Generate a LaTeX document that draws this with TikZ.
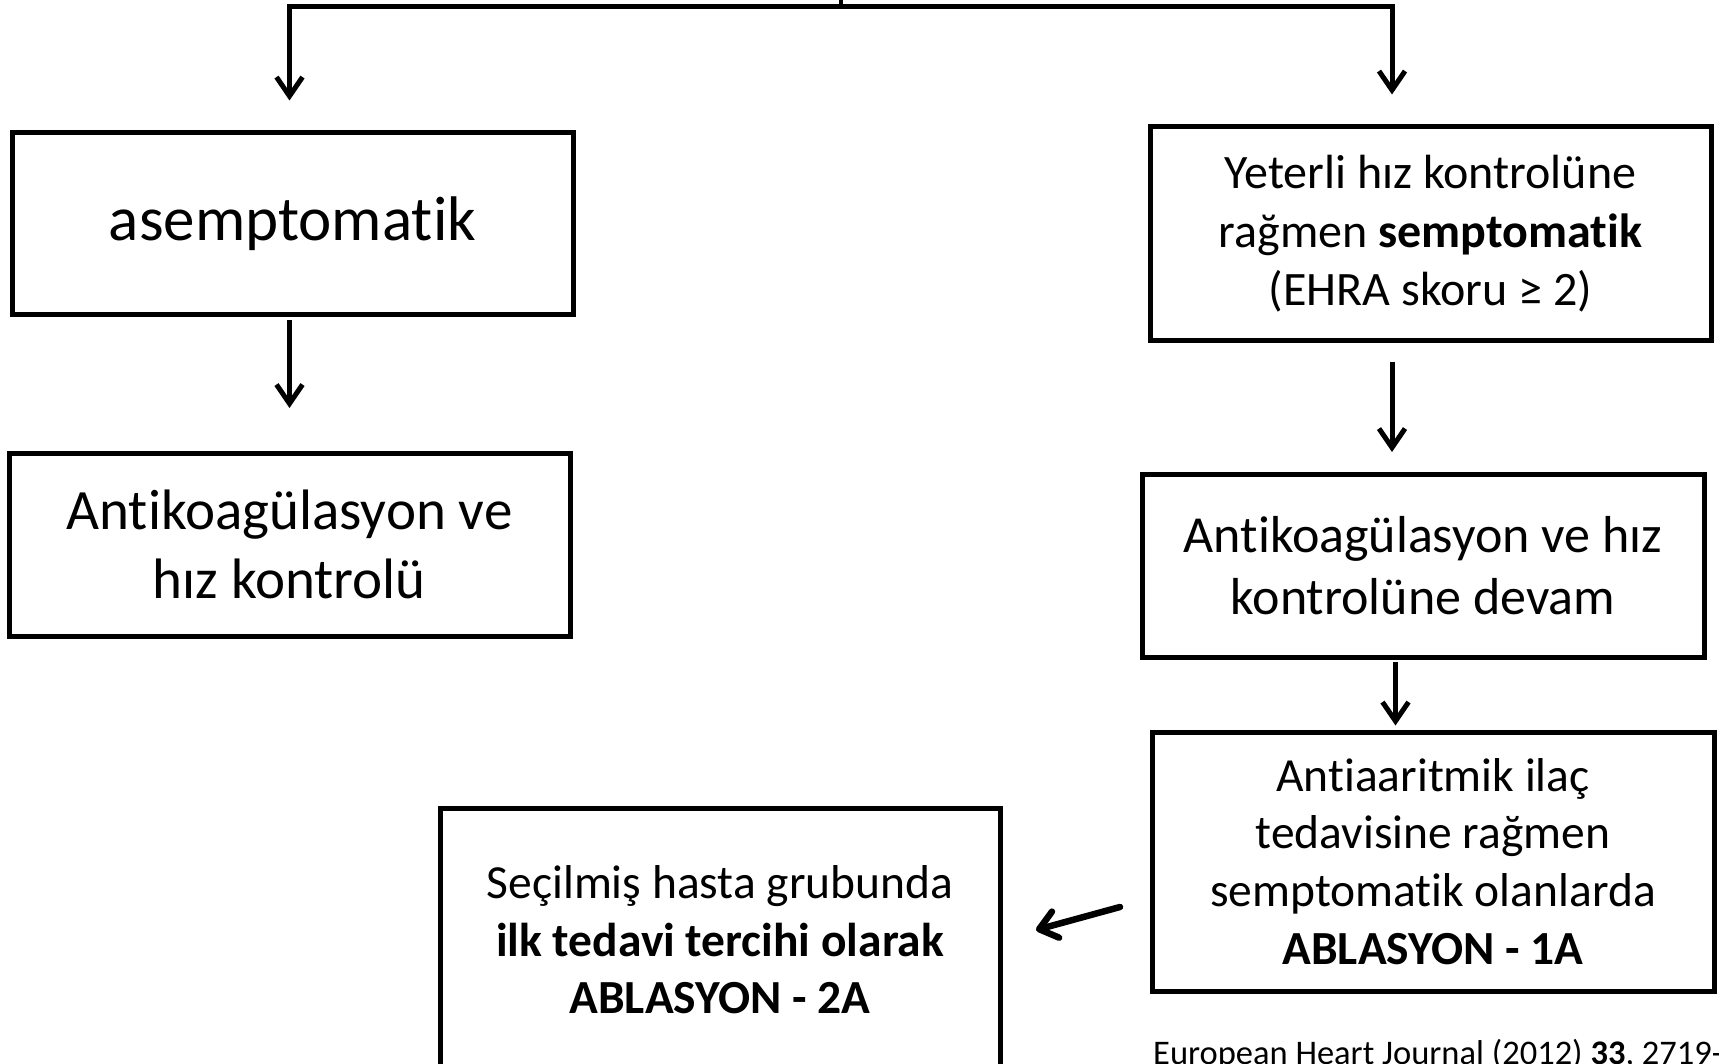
\documentclass[tikz,border=0pt]{standalone}
\usepackage{fontspec}
\setmainfont{Carlito}[Ligatures=NoCommon]
\usetikzlibrary{arrows.meta}
\begin{document}
\begin{tikzpicture}[x=1pt,y=-1pt,
  box/.style={draw, line width=5pt, align=center, inner sep=0pt, anchor=center},
  arr/.style={line width=5pt, -{Straight Barb[length=19pt,width=26pt]}},
  barb/.style={line width=6.5pt, line cap=round, -{Straight Barb[length=17pt,width=27pt,round]}},
]
\path[use as bounding box, clip] (0,0) rectangle (1719,1064);

% decision boxes
\node[box, minimum width=561pt, minimum height=182pt, font=\fontsize{63}{77}\selectfont]
  (A) at (292.5,224) {asemptomatik};
\node[box, minimum width=561pt, minimum height=183pt, font=\fontsize{57}{69}\selectfont]
  (B) at (289.5,544.5) {Antikoagülasyon ve\\hız kontrolü};
\node[box, minimum width=561pt, minimum height=214pt, font=\fontsize{48}{58.5}\selectfont]
  (C) at (1430.5,234) {Yeterli hız kontrolüne\\rağmen \textbf{semptomatik}\\(EHRA skoru ≥ 2)};
\node[box, minimum width=562pt, minimum height=183pt, font=\fontsize{52}{62.5}\selectfont]
  (D) at (1423,565.5) {Antikoagülasyon ve hız\\kontrolüne devam};
\node[box, minimum width=562pt, minimum height=259pt, font=\fontsize{47.5}{57.8}\selectfont]
  (E) at (1433,861.5) {Antiaaritmik ilaç\\tedavisine rağmen\\semptomatik olanlarda\\\textbf{ABLASYON - 1A}};
\node[box, minimum width=560pt, minimum height=264pt, font=\fontsize{47.5}{57.5}\selectfont]
  (F) at (720,940) {Seçilmiş hasta grubunda\\\textbf{ilk tedavi tercihi olarak}\\\textbf{ABLASYON - 2A}};

% source line
\node[anchor=base west, inner sep=0pt, font=\fontsize{34.5}{41}\selectfont]
  (ref) at (1153,1064) {European Heart Journal (2012) \textbf{33}, 2719-};

% top split
\coordinate (top) at (841,0);
\coordinate (mid) at (841,6.5);
\coordinate (tl) at (289.5,6.5);
\coordinate (tr) at (1392,6.5);
\draw[line width=3.5pt] (top) -- (mid);
\draw[line width=5pt] ([xshift=-2.5pt]tl) -- ([xshift=2.5pt]tr);
\draw[arr, shorten >=30pt] (tl) -- (tl |- A.north);
\draw[arr, shorten >=30pt] (tr) -- (tr |- C.north);

% vertical flow
\draw[arr, shorten <=3pt, shorten >=42.5pt] (tl |- A.south) -- (tl |- B.north);
\draw[arr, shorten <=19pt, shorten >=19.5pt] (tr |- C.south) -- (tr |- D.north);
\coordinate (dx) at (1395.5,0);
\draw[arr, shorten <=2pt, shorten >=4pt] (dx |- D.south) -- (dx |- E.north);

% sideways arrow
\coordinate (eout) at (1120,907);
\coordinate (fin) at (1036,930);
\draw[barb] (eout) -- (fin);
\end{tikzpicture}
\end{document}
